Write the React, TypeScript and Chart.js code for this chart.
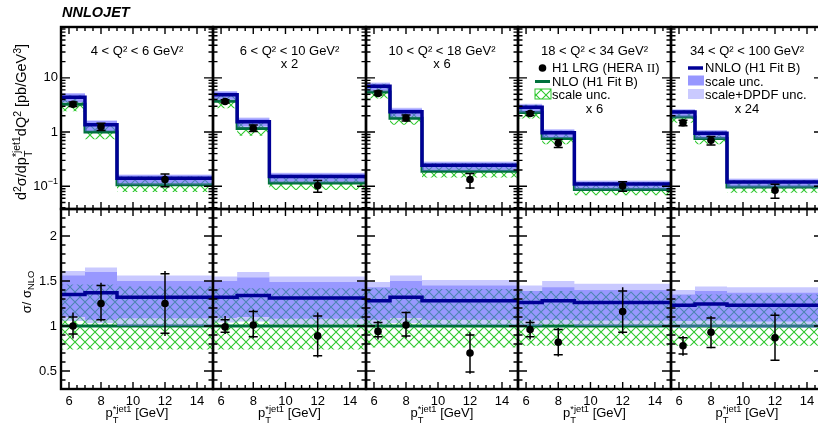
import React, { useEffect, useRef } from 'react';
import { Chart, registerables } from 'chart.js';

Chart.register(...registerables);

// ---------------- data ----------------
const binEdges = [5.5, 7, 9, 15];
const binCenters = [6.25, 8, 12];
const q2Ranges = ['4 < Q² < 6 GeV²', '6 < Q² < 10 GeV²', '10 < Q² < 18 GeV²', '18 < Q² < 34 GeV²', '34 < Q² < 100 GeV²'];
const scaleFactors = ['', 'x 2', 'x 6', 'x 6', 'x 24'];
const xTickValues = [6, 8, 10, 12, 14];
const ratioTickValues = [0.5, 1, 1.5, 2];
const ratioTickLabels = ['0.5', '1', '1.5', '2'];
const logTickValues = [0.1, 1, 10];
const logTickBases = ['10', '1', '10'];
const logTickExps = ['−1', '', ''];

// NLO prediction in the upper panels (already multiplied by the factor)
const nloTop = [
  [3.26, 1.0, 0.106],
  [3.7, 1.16, 0.115],
  [5.5, 1.8, 0.19],
  [2.29, 0.76, 0.087],
  [1.9, 0.76, 0.097],
];
const nloRatio = [1, 1, 1];
const nloScaleLo = [
  [0.74, 0.74, 0.74],
  [0.74, 0.74, 0.74],
  [0.76, 0.76, 0.76],
  [0.78, 0.78, 0.78],
  [0.78, 0.78, 0.78],
];
const nloScaleHi = [
  [1.46, 1.46, 1.44],
  [1.42, 1.42, 1.42],
  [1.42, 1.42, 1.41],
  [1.39, 1.39, 1.38],
  [1.34, 1.35, 1.35],
];
const nnloRatio = [
  [1.35, 1.37, 1.32],
  [1.32, 1.34, 1.31],
  [1.28, 1.32, 1.28],
  [1.26, 1.28, 1.26],
  [1.23, 1.245, 1.23],
];
const nnloScaleHi = [
  [1.56, 1.6, 1.5],
  [1.5, 1.54, 1.49],
  [1.43, 1.5, 1.45],
  [1.39, 1.43, 1.4],
  [1.35, 1.39, 1.37],
];
const nnloScaleLo = [
  [1.1, 1.07, 1.085],
  [1.09, 1.1, 1.08],
  [1.07, 1.09, 1.07],
  [1.06, 1.07, 1.06],
  [1.055, 1.06, 1.05],
];
const nnloTotHi = [
  [1.61, 1.65, 1.56],
  [1.55, 1.6, 1.55],
  [1.49, 1.56, 1.51],
  [1.45, 1.5, 1.47],
  [1.4, 1.44, 1.43],
];
const nnloTotLo = [
  [1.055, 1.03, 1.0],
  [1.04, 1.05, 1.02],
  [1.02, 1.03, 1.01],
  [1.0, 1.02, 1.0],
  [0.98, 0.99, 0.98],
];
const dataRatio = [
  [1.0, 1.25, 1.25],
  [0.99, 1.01, 0.89],
  [0.94, 1.01, 0.7],
  [0.96, 0.82, 1.16],
  [0.78, 0.93, 0.87],
];
const dataStatLo = [
  [0.91, 1.07, 0.92],
  [0.93, 0.88, 0.67],
  [0.88, 0.89, 0.49],
  [0.88, 0.68, 0.93],
  [0.69, 0.76, 0.62],
];
const dataStatHi = [
  [1.1, 1.45, 1.58],
  [1.07, 1.16, 1.11],
  [1.04, 1.15, 0.9],
  [1.04, 0.96, 1.39],
  [0.87, 1.09, 1.12],
];
const dataTotLo = [
  [0.86, 1.05, 0.89],
  [0.91, 0.86, 0.65],
  [0.85, 0.86, 0.47],
  [0.85, 0.66, 0.91],
  [0.67, 0.75, 0.61],
];
const dataTotHi = [
  [1.15, 1.48, 1.61],
  [1.11, 1.18, 1.15],
  [1.055, 1.16, 0.93],
  [1.07, 0.98, 1.43],
  [0.89, 1.11, 1.15],
];

// ---------------- layout / style ----------------
const colEdges = [61, 213, 366, 518, 671, 823];
const rowEdges = [27, 209, 389];
const X_MIN = 5.5, X_MAX = 15;
const TOP_MIN = 0.038, TOP_MAX = 87;
const RAT_MIN = 0.3, RAT_MAX = 2.3;
const FONT = '"Liberation Sans", Arial, Helvetica, sans-serif';
const C_NNLO = '#000096';
const C_NLO = '#00703c';
const C_LIGHT = 'rgba(120,120,255,0.4)';
const C_MED = 'rgba(80,80,255,0.4)';
const C_HATCH = '#2ec82e';

function makeHatch(ctx: CanvasRenderingContext2D): CanvasPattern {
  const c = document.createElement('canvas');
  c.width = 10; c.height = 10;
  const g = c.getContext('2d')!;
  g.strokeStyle = C_HATCH; g.lineWidth = 1.1;
  g.beginPath();
  g.moveTo(0, 0); g.lineTo(10, 10);
  g.moveTo(10, 0); g.lineTo(0, 10);
  g.stroke();
  return ctx.createPattern(c, 'repeat')!;
}

function Panel({ row, col }: { row: number; col: number }) {
  const ref = useRef<HTMLCanvasElement>(null);
  const pl = colEdges[col], pr = colEdges[col + 1], pt = rowEdges[row], pb = rowEdges[row + 1];
  const mL = col === 0 ? 61 : 12, mR = 12, mT = 12, mB = row === 1 ? 28 : 12;
  const W = pr - pl + mL + mR, H = pb - pt + mT + mB;

  useEffect(() => {
    const canvas = ref.current!;
    const ctx0 = canvas.getContext('2d')!;
    const hatch = makeHatch(ctx0);
    const f = (v: number, i: number) => (row === 0 ? v * nloTop[col][i] : v);
    const step = (vals: number[]) => {
      const ys = vals.map(f);
      return [
        { x: binEdges[0], y: ys[0] },
        { x: binEdges[1], y: ys[1] },
        { x: binEdges[2], y: ys[2] },
        { x: binEdges[3], y: ys[2] },
      ];
    };
    const invisible = { borderColor: 'rgba(0,0,0,0)', borderWidth: 0, pointRadius: 0, stepped: 'before' as const };
    const band = (hi: number[], lo: number[], color: any, order: number) => [
      { data: step(hi), fill: '+1', backgroundColor: color, order, ...invisible },
      { data: step(lo), fill: false, order, ...invisible },
    ];

    const decor = {
      id: 'decor',
      afterDatasetsDraw(chart: any) {
        const { ctx, scales } = chart;
        const xs = scales.x, ys = scales.y;
        ctx.save();
        ctx.strokeStyle = '#000';
        ctx.lineWidth = 1.5;
        for (let i = 0; i < binCenters.length; i++) {
          const px = xs.getPixelForValue(binCenters[i]);
          const yTL = ys.getPixelForValue(f(dataTotLo[col][i], i));
          const yTH = ys.getPixelForValue(f(dataTotHi[col][i], i));
          const ySL = ys.getPixelForValue(f(dataStatLo[col][i], i));
          const ySH = ys.getPixelForValue(f(dataStatHi[col][i], i));
          ctx.beginPath();
          ctx.moveTo(px, yTL); ctx.lineTo(px, yTH);
          ctx.moveTo(px - 4.5, ySL); ctx.lineTo(px + 4.5, ySL);
          ctx.moveTo(px - 4.5, ySH); ctx.lineTo(px + 4.5, ySH);
          ctx.stroke();
        }
        ctx.restore();
      },
      afterDraw(chart: any) {
        const { ctx, chartArea: a, scales } = chart;
        const xs = scales.x, ys = scales.y;
        ctx.save();
        ctx.strokeStyle = '#000';
        ctx.lineWidth = 1.4;
        ctx.beginPath();
        for (let k = 11; k <= 30; k++) {
          const v = k / 2;
          const px = xs.getPixelForValue(v);
          const len = k % 4 === 0 ? 7 : 4;
          ctx.moveTo(px, a.bottom); ctx.lineTo(px, a.bottom - len);
          ctx.moveTo(px, a.top); ctx.lineTo(px, a.top + len);
        }
        const yTick = (v: number, len: number) => {
          const py = ys.getPixelForValue(v);
          ctx.moveTo(a.left, py); ctx.lineTo(a.left + len, py);
          ctx.moveTo(a.right, py); ctx.lineTo(a.right - len, py);
        };
        if (row === 0) {
          for (let e = -2; e <= 2; e++) {
            for (let m = 1; m <= 9; m++) {
              const v = m * Math.pow(10, e);
              if (v >= TOP_MIN && v <= TOP_MAX) yTick(v, m === 1 ? 9 : 4.5);
            }
          }
        } else {
          for (let k = 3; k <= 23; k++) yTick(k / 10, k % 5 === 0 ? 9 : 4.5);
        }
        ctx.stroke();
        ctx.lineWidth = 2.4;
        ctx.strokeRect(a.left, a.top, a.right - a.left, a.bottom - a.top);

        ctx.fillStyle = '#000';
        const normal = `13px ${FONT}`;
        const small = `9px ${FONT}`;
        if (col === 0) {
          ctx.textBaseline = 'middle';
          ctx.textAlign = 'right';
          if (row === 0) {
            for (let i = 0; i < logTickValues.length; i++) {
              const py = ys.getPixelForValue(logTickValues[i]);
              let xr = a.left - 3;
              if (logTickExps[i]) {
                ctx.font = small;
                const ew = ctx.measureText(logTickExps[i]).width;
                ctx.fillText(logTickExps[i], xr, py - 5);
                xr -= ew;
              }
              ctx.font = normal;
              ctx.fillText(logTickBases[i], xr, py);
            }
          } else {
            ctx.font = normal;
            for (let i = 0; i < ratioTickValues.length; i++) {
              ctx.fillText(ratioTickLabels[i], a.left - 4, ys.getPixelForValue(ratioTickValues[i]));
            }
          }
        }
        if (row === 1) {
          ctx.font = normal;
          ctx.textAlign = 'center';
          ctx.textBaseline = 'alphabetic';
          for (const v of xTickValues) ctx.fillText(String(v), xs.getPixelForValue(v), a.bottom + 16);
        }
        if (row === 0) {
          const cx = (a.left + a.right) / 2;
          ctx.font = normal;
          ctx.textAlign = 'center';
          ctx.textBaseline = 'alphabetic';
          ctx.fillText(q2Ranges[col], cx, a.top + 28);
          const hasLegend = col >= 3;
          if (scaleFactors[col]) ctx.fillText(scaleFactors[col], cx, a.top + (hasLegend ? 86 : 41));
          if (hasLegend) {
            ctx.textAlign = 'left';
            const mx0 = a.left + 17, mx1 = a.left + 32, tx = a.left + 34;
            const rows = [a.top + 45, a.top + 58.5, a.top + 72];
            if (col === 3) {
              ctx.beginPath();
              ctx.arc((mx0 + mx1) / 2, rows[0] - 4, 3.8, 0, Math.PI * 2);
              ctx.fill();
              ctx.fillText('H1 LRG (HERA ', tx, rows[0]);
              const w1 = ctx.measureText('H1 LRG (HERA ').width;
              ctx.font = `13px "Liberation Serif", "Times New Roman", serif`;
              ctx.fillText('II', tx + w1, rows[0]);
              const w2 = ctx.measureText('II').width;
              ctx.font = normal;
              ctx.fillText(')', tx + w1 + w2, rows[0]);
              ctx.strokeStyle = C_NLO; ctx.lineWidth = 3;
              ctx.beginPath(); ctx.moveTo(mx0, rows[1] - 4); ctx.lineTo(mx1, rows[1] - 4); ctx.stroke();
              ctx.fillText('NLO (H1 Fit B)', tx, rows[1]);
              ctx.fillStyle = hatch;
              ctx.fillRect(mx0, rows[2] - 10, 16, 10);
              ctx.strokeStyle = C_HATCH; ctx.lineWidth = 1;
              ctx.strokeRect(mx0, rows[2] - 10, 16, 10);
              ctx.fillStyle = '#000';
              ctx.fillText('scale unc.', tx, rows[2]);
            } else {
              ctx.strokeStyle = C_NNLO; ctx.lineWidth = 3.5;
              ctx.beginPath(); ctx.moveTo(mx0, rows[0] - 4); ctx.lineTo(mx1, rows[0] - 4); ctx.stroke();
              ctx.fillText('NNLO (H1 Fit B)', tx, rows[0]);
              ctx.fillStyle = '#9797ff';
              ctx.fillRect(mx0, rows[1] - 10, 16, 10);
              ctx.fillStyle = '#cacaff';
              ctx.fillRect(mx0, rows[2] - 10, 16, 10);
              ctx.fillStyle = '#000';
              ctx.fillText('scale unc.', tx, rows[1]);
              ctx.fillText('scale+DPDF unc.', tx, rows[2]);
            }
          }
        }
        ctx.restore();
      },
    };

    const chart = new Chart(canvas, {
      type: 'line',
      data: {
        datasets: [
          ...band(nloScaleHi[col], nloScaleLo[col], hatch, 10),
          { data: step(nloRatio), borderColor: C_NLO, borderWidth: 3, pointRadius: 0, stepped: 'before', fill: false, order: 9 },
          ...band(nnloTotHi[col], nnloTotLo[col], C_LIGHT, 8),
          ...band(nnloScaleHi[col], nnloScaleLo[col], C_MED, 7),
          { data: step(nnloRatio[col]), borderColor: C_NNLO, borderWidth: 3.5, pointRadius: 0, stepped: 'before', fill: false, order: 6 },
          {
            data: binCenters.map((x, i) => ({ x, y: f(dataRatio[col][i], i) })),
            showLine: false, pointRadius: 3.8, pointBackgroundColor: '#000', pointBorderColor: '#000',
            pointBorderWidth: 0, borderColor: '#000', fill: false, order: 1,
          },
        ] as any,
      },
      options: {
        animation: false,
        responsive: false,
        maintainAspectRatio: false,
        events: [],
        layout: { padding: { left: mL, right: mR, top: mT, bottom: mB } },
        plugins: { legend: { display: false }, tooltip: { enabled: false } },
        scales: {
          x: { type: 'linear', min: X_MIN, max: X_MAX, display: false },
          y: row === 0
            ? { type: 'logarithmic', min: TOP_MIN, max: TOP_MAX, display: false }
            : { type: 'linear', min: RAT_MIN, max: RAT_MAX, display: false },
        },
      } as any,
      plugins: [decor],
    });
    return () => chart.destroy();
  }, []);

  return (
    <canvas
      ref={ref}
      width={W}
      height={H}
      style={{ position: 'absolute', left: pl - mL, top: pt - mT, width: W, height: H }}
    />
  );
}

const sup = (t: string) => (
  <span style={{ fontSize: '0.72em', position: 'relative', top: '-0.5em' }}>{t}</span>
);

function SupSub({ up, down }: { up: string; down: string }) {
  return (
    <span style={{ position: 'relative', display: 'inline-block', fontSize: '0.72em', lineHeight: 1 }}>
      <span style={{ visibility: 'hidden' }}>{up}</span>
      <span style={{ position: 'absolute', left: 0, top: '-0.55em' }}>{up}</span>
      <span style={{ position: 'absolute', left: 0, top: '0.6em' }}>{down}</span>
    </span>
  );
}

export default function App() {
  const panels = [];
  for (let r = 0; r < 2; r++) for (let c = 0; c < 5; c++) panels.push(<Panel key={`${r}-${c}`} row={r} col={c} />);
  return (
    <div style={{ position: 'absolute', left: 0, top: 0, width: 818, height: 430, overflow: 'hidden', background: '#fff', fontFamily: FONT, color: '#000' }}>
      {panels}
      <div style={{ position: 'absolute', left: 62, top: 4, fontSize: 14.5, fontWeight: 'bold', fontStyle: 'italic', lineHeight: '16px' }}>NNLOJET</div>
      <div style={{ position: 'absolute', left: 21 - 110, top: 122 - 10, width: 220, height: 20, lineHeight: '20px', textAlign: 'center', transform: 'rotate(-90deg)', fontSize: 14.5, whiteSpace: 'nowrap' }}>
        d{sup('2')}σ/dp<SupSub up="*jet1" down="T" />dQ{sup('2')} [pb/GeV{sup('3')}]
      </div>
      <div style={{ position: 'absolute', left: 27 - 60, top: 292 - 10, width: 120, height: 20, lineHeight: '20px', textAlign: 'center', transform: 'rotate(-90deg)', fontSize: 13, whiteSpace: 'nowrap' }}>
        σ/ σ<span style={{ fontSize: '0.72em', position: 'relative', top: '0.35em' }}>NLO</span>
      </div>
      {[0, 1, 2, 3, 4].map((c) => (
        <div key={c} style={{ position: 'absolute', left: (colEdges[c] + colEdges[c + 1]) / 2 - 60, top: 404, width: 120, height: 18, lineHeight: '18px', textAlign: 'center', fontSize: 13, whiteSpace: 'nowrap' }}>
          p<SupSub up="*jet1" down="T" /> [GeV]
        </div>
      ))}
    </div>
  );
}
